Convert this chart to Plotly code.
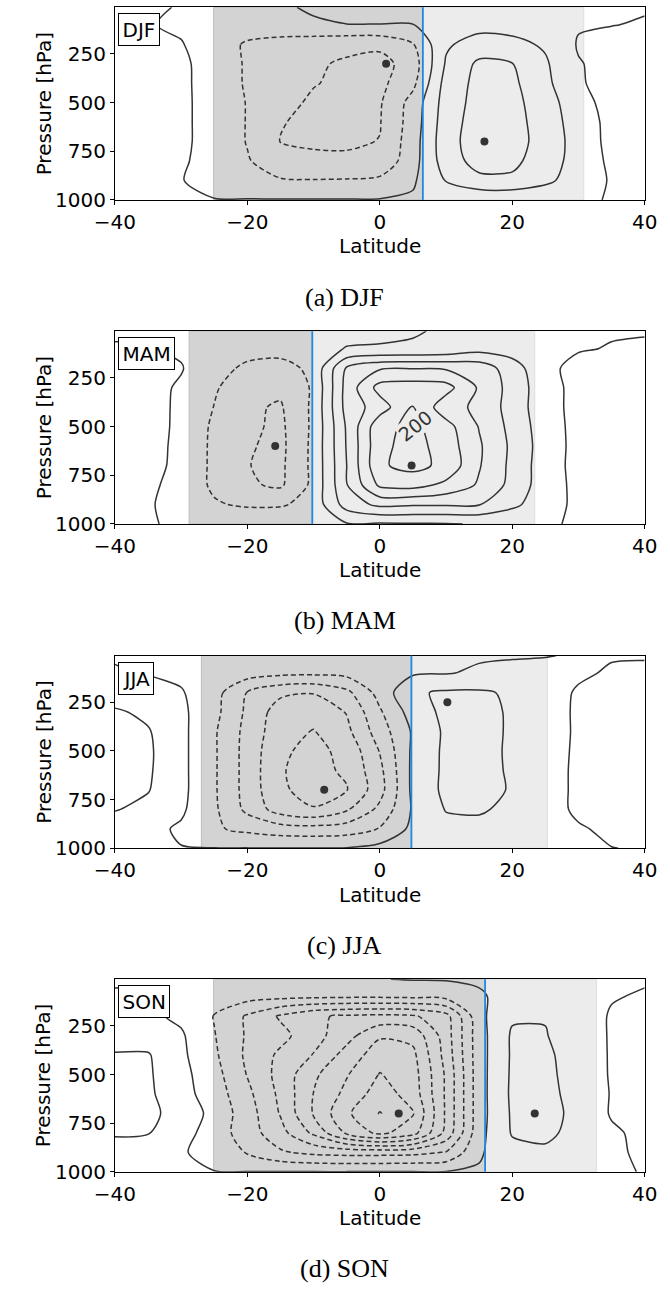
import plotly.graph_objects as go

# ---- data -------------------------------------------------------------
lat = [-40, -35, -30, -25, -20, -15, -10, -5, 0, 5, 10, 15, 20, 25, 30, 35, 40]
plev = [10, 100, 200, 300, 400, 500, 600, 700, 800, 900, 1000]

# mass streamfunction, one row per pressure level (top to bottom)
psi_djf = [
    [5, 5, -2, -3, -3, -3, 3, 10, 10, 10, 8, 8, 8, 6, 4, 3, 3],
    [8, 2, -6, -15, -18, -15, -3, -0.5, -0.5, -0.5, 18, 28, 26, 18, 3, 1, -3],
    [12, 10, 2, -20, -45, -55, -65, -70, -70, -42, 35, 55, 50, 35, -3, -12, -15],
    [15, 12, 6, -14, -45, -60, -75, -85, -95, -60, 44, 88, 81, 45, 2, -10, -15],
    [15, 13, 6, -13, -45, -62, -78, -88, -90, -50, 55, 92, 88, 50, 3, -10, -15],
    [15, 14, 6, -12, -42, -68, -86, -90, -84, -25, 58, 95, 92, 58, 15, -15, -18],
    [15, 14, 6, -12, -42, -78, -88, -86, -82, -22, 62, 98, 96, 60, 22, -12, -18],
    [15, 14, 6, -12, -42, -81, -84, -85, -79, -18, 65, 100, 98, 62, 25, -12, -18],
    [15, 13, 5, -15, -37, -62, -74, -74, -70, -15, 60, 95, 90, 58, 25, -8, -15],
    [12, 10, 2, -20, -33, -37, -38, -37, -32, -5, 42, 70, 72, 50, 18, -3, -12],
    [3, 3, 3, 2, 2, 2, 2, 2, 2, 5, 5, 5, 5, 5, 5, -2, -2],
]
psi_mam = [
    [-3, -4, -5, -6, -8, -8, -8, -6, -5, -2, 3, 5, 6, 5, 4, 3, 2],
    [2, 2, -5, -12, -25, -25, -8, 1, 2, 3, 8, 25, 22, 10, 3, -2, -4],
    [14, 10, 2, -25, -48, -55, -30, 85, 115, 118, 115, 105, 58, 10, -12, -15, -12],
    [15, 10, -4, -36, -62, -72, -35, 95, 175, 180, 175, 115, 65, 15, -12, -18, -18],
    [18, 12, -6, -41, -74, -84, -32, 95, 140, 202, 135, 112, 63, 15, -12, -18, -20],
    [25, 15, -8, -47, -72, -88, -32, 85, 188, 210, 175, 118, 68, 18, -12, -15, -18],
    [32, 15, -10, -48, -76, -90, -30, 83, 190, 215, 182, 125, 72, 20, -12, -18, -20],
    [30, 14, -11, -48, -79, -88, -30, 80, 195, 212, 190, 123, 70, 18, -12, -18, -20],
    [22, 8, -14, -47, -75, -86, -30, 78, 168, 175, 150, 115, 68, 18, -10, -15, -18],
    [12, 4, -15, -36, -46, -45, -25, 58, 90, 85, 85, 82, 50, 15, -8, -12, -15],
    [2, 1, -2, -3, -3, -3, -3, -3, -4, -3, -2, 2, 3, 2, -2, -3, -3],
]
psi_jja = [
    [-3, -5, -6, -6, -6, -6, -6, -6, -6, -6, -5, -4, -3, -1, 2, 2, 2],
    [3, -2, -8, -12, -22, -30, -32, -28, -15, -5, -2, 5, 10, 8, 4, -3, -5],
    [20, 15, 3, -25, -82, -112, -118, -90, -25, 35, 45, 45, 35, 12, -3, -10, -12],
    [45, 32, 8, -28, -88, -140, -145, -118, -45, 18, 50, 50, 36, 15, -5, -12, -16],
    [50, 43, 10, -35, -93, -145, -162, -130, -60, 5, 47, 48, 37, 16, -5, -14, -18],
    [52, 46, 10, -35, -95, -154, -170, -150, -78, 8, 48, 49, 36, 16, -6, -15, -18],
    [50, 45, 10, -35, -95, -158, -170, -155, -90, 10, 48, 48, 37, 18, -8, -15, -18],
    [48, 42, 10, -35, -95, -155, -172, -162, -95, 10, 49, 48, 38, 18, -8, -15, -18],
    [42, 30, 6, -33, -90, -140, -158, -125, -70, 5, 42, 44, 32, 14, -6, -12, -15],
    [20, 10, -5, -35, -50, -62, -65, -60, -38, 10, 28, 30, 22, 12, 3, -6, -10],
    [5, 3, 1, 1, 1, 1, 1, 2, 12, 8, 10, 10, 8, 5, 2, 0.5, -2],
]
psi_son = [
    [-3, -3, -3, -3, -3, -3, -3, -3, -1, 2, 3, 5, 5, 5, 5, 4, 3],
    [3, 2, -5, -15, -25, -30, -33, -35, -35, -33, -28, -5, 15, 15, 8, 2, -3],
    [15, 8, -8, -42, -85, -125, -155, -165, -170, -165, -135, -10, 35, 38, 18, -3, -8],
    [28, 22, 5, -38, -85, -108, -145, -185, -235, -228, -140, -15, 45, 42, 18, -3, -10],
    [42, 43, 8, -33, -88, -128, -162, -216, -262, -250, -145, -15, 45, 48, 20, -3, -10],
    [50, 45, 12, -25, -82, -134, -192, -237, -282, -258, -154, -15, 46, 50, 22, -3, -12],
    [55, 47, 14, -19, -70, -129, -201, -251, -300, -263, -154, -15, 47, 52, 25, -2, -12],
    [52, 48, 27, -13, -61, -123, -204, -273, -322, -283, -154, -15, 45, 55, 28, -3, -10],
    [45, 42, 15, -18, -61, -106, -168, -247, -290, -256, -148, -12, 43, 50, 25, 5, -8],
    [20, 15, 4, -15, -43, -75, -90, -95, -95, -92, -78, -5, 28, 32, 20, 5, -5],
    [5, 4, 1.5, 1, 1, 1, 1, 1, 2, 2, 1, 4, 10, 10, 8, 3, -1],
]

seasons = ["DJF", "MAM", "JJA", "SON"]
captions = ["(a) DJF", "(b) MAM", "(c) JJA", "(d) SON"]
fields = [psi_djf, psi_mam, psi_jja, psi_son]

# cell boundaries (latitude)
south_edge = [-25.1, -28.8, -26.95, -25.1]
itcz_lat = [6.5, -10.2, 4.77, 15.9]
north_edge = [30.8, 23.4, 25.3, 32.7]

# extrema of each cell
min_lat = [0.95, -15.8, -8.4, 2.85]
min_p = [300, 600, 700, 700]
max_lat = [15.8, 4.8, 10.2, 23.4]
max_p = [700, 700, 250, 700]

x_ticks = [-40, -20, 0, 20, 40]
y_ticks = [250, 500, 750, 1000]

# ---- layout geometry --------------------------------------------------
W, H = 670, 1294
plot_left, plot_right = 99, 657
panel_tops = [7.3, 334.3, 661.7, 988.3]
panel_h = 194.5

FONT = "DejaVu Sans"
LINE_COL = "#333333"

fig = go.Figure()
shapes, annotations = [], []

for i, name in enumerate(seasons):
    sfx = "" if i == 0 else str(i + 1)
    xr, yr = "x" + sfx, "y" + sfx
    top = panel_tops[i]
    bottom = top + panel_h

    fig.add_trace(go.Contour(
        x=lat, y=plev, z=fields[i], xaxis=xr, yaxis=yr,
        autocontour=False,
        contours=dict(start=-320, end=-40, size=40, coloring="none"),
        line=dict(color=LINE_COL, width=1.5, dash="5px,3px", smoothing=0.8),
        showscale=False, hoverinfo="skip", showlegend=False,
    ))
    fig.add_trace(go.Contour(
        x=lat, y=plev, z=fields[i], xaxis=xr, yaxis=yr,
        autocontour=False,
        contours=dict(start=0, end=320, size=40, coloring="none"),
        line=dict(color=LINE_COL, width=1.5, smoothing=0.8),
        showscale=False, hoverinfo="skip", showlegend=False,
    ))
    fig.add_trace(go.Scatter(
        x=[min_lat[i], max_lat[i]], y=[min_p[i], max_p[i]],
        xaxis=xr, yaxis=yr, mode="markers",
        marker=dict(color=LINE_COL, size=8),
        hoverinfo="skip", showlegend=False,
    ))

    y0 = 1 - bottom / H
    y1 = 1 - top / H
    axis_common = dict(
        showline=True, mirror=True, linecolor="black", linewidth=1.2,
        ticks="outside", ticklen=4, tickwidth=1.2, tickcolor="black",
        showgrid=False, zeroline=False,
        tickfont=dict(family=FONT, size=20, color="black"),
    )
    fig.update_layout(**{
        "xaxis" + sfx: dict(domain=[plot_left / W, plot_right / W], anchor=yr,
                            range=[-40, 40], tickvals=x_ticks, **axis_common),
        "yaxis" + sfx: dict(domain=[y0, y1], anchor=xr, range=[1000, 10],
                            tickvals=y_ticks, **axis_common),
    })

    # shaded Hadley cells and the boundary between them
    shapes.append(dict(type="rect", xref=xr, yref=yr + " domain",
                       x0=south_edge[i], x1=itcz_lat[i], y0=0, y1=1,
                       fillcolor="#d3d3d3", line=dict(color="#bdbdbd", width=1),
                       layer="below"))
    shapes.append(dict(type="rect", xref=xr, yref=yr + " domain",
                       x0=itcz_lat[i], x1=north_edge[i], y0=0, y1=1,
                       fillcolor="#ececec", line=dict(color="#dddddd", width=1),
                       layer="below"))
    shapes.append(dict(type="line", xref=xr, yref=yr + " domain",
                       x0=itcz_lat[i], x1=itcz_lat[i], y0=0, y1=1,
                       line=dict(color="#1e88e5", width=1.8), layer="above"))

    # season tag
    annotations.append(dict(
        text=name, xref="paper", yref="paper",
        x=102 / W, y=1 - (top + 6) / H, xanchor="left", yanchor="top",
        showarrow=False, font=dict(family=FONT, size=20, color="black"),
        bgcolor="white", bordercolor="black", borderwidth=1, borderpad=3.5,
    ))
    # axis titles
    annotations.append(dict(
        text="Latitude", xref="paper", yref="paper",
        x=(plot_left + plot_right) / 2 / W, y=1 - (bottom + 47) / H,
        xanchor="center", yanchor="middle", showarrow=False,
        font=dict(family=FONT, size=20, color="black"),
    ))
    annotations.append(dict(
        text="Pressure [hPa]", xref="paper", yref="paper",
        x=24 / W, y=1 - (top + panel_h / 2) / H, textangle=-90,
        xanchor="center", yanchor="middle", showarrow=False,
        font=dict(family=FONT, size=20, color="black"),
    ))
    # caption
    annotations.append(dict(
        text=captions[i], xref="paper", yref="paper",
        x=341 / W, y=1 - (bottom + 98) / H,
        xanchor="center", yanchor="middle", showarrow=False,
        font=dict(family="Liberation Serif", size=26, color="black"),
    ))

# inline contour label
annotations.append(dict(
    text="200", xref="x2", yref="y2", x=5.3, y=496, textangle=-38,
    showarrow=False, font=dict(family=FONT, size=19, color=LINE_COL),
    bgcolor="#ececec", borderpad=0,
))

fig.update_layout(
    width=W, height=H, margin=dict(l=0, r=0, t=0, b=0),
    paper_bgcolor="white", plot_bgcolor="white",
    shapes=shapes, annotations=annotations, showlegend=False,
)

fig.write_html("out.html")
